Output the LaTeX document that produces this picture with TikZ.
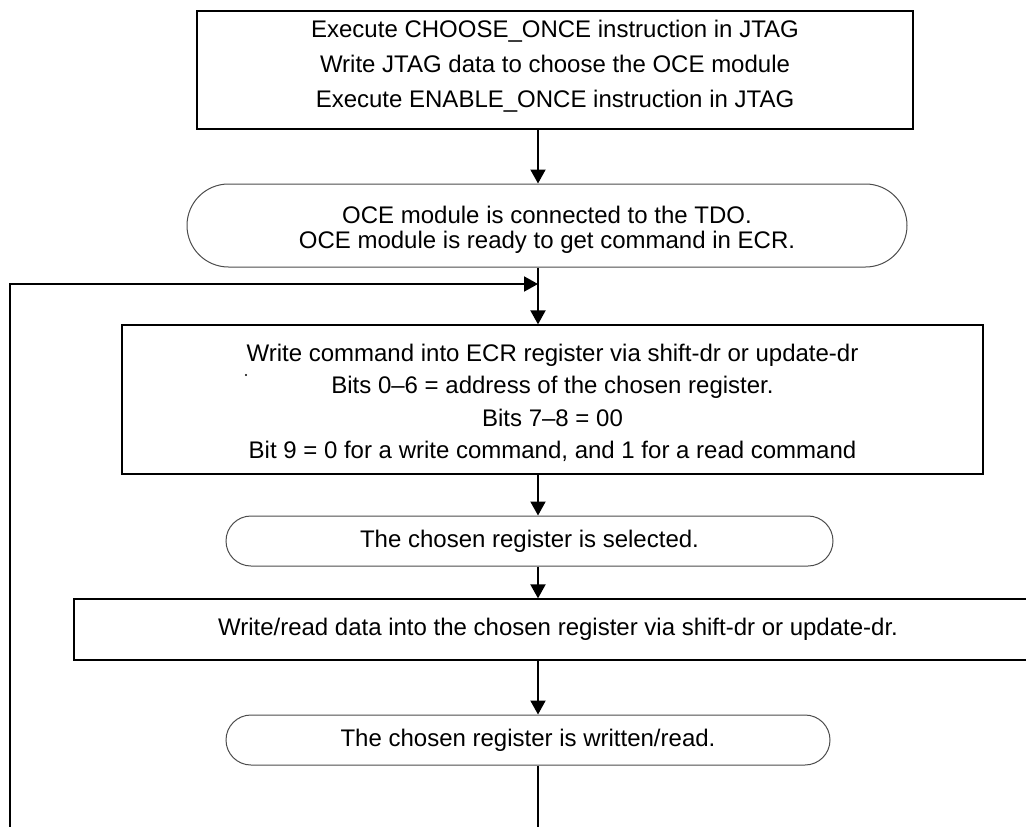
\documentclass[tikz,border=0pt]{standalone}
\usepackage{fontspec}
\setmainfont{Liberation Sans}
\usetikzlibrary{arrows.meta,shapes.misc}
\begin{document}
\begin{tikzpicture}[x=1pt,y=-1pt,
  txt/.style={font=\fontsize{24}{33}\selectfont, align=center, inner sep=0pt},
  sqbox/.style={draw, line width=1.3pt, rectangle, inner sep=0pt},
  rbox/.style={draw=black!70, line width=1pt, rounded rectangle, inner sep=0pt},
  arr/.style={line width=2pt, -{Triangle[width=15pt,length=14pt]}},
  conn/.style={line width=2pt}]
\useasboundingbox (0,0) rectangle (1026,827);
% boxes
\node[sqbox, minimum width=716pt, minimum height=118pt] (top) at (555,70) {};
\node[rbox, minimum width=720pt, minimum height=83pt] (ready) at (547,225.5) {};
\node[sqbox, minimum width=861pt, minimum height=149pt] (wcmd) at (552.5,399.5) {};
\node[rbox, minimum width=607pt, minimum height=50pt] (sel) at (529.5,541) {};
\node[sqbox, minimum width=968pt, minimum height=61pt] (wrdata) at (558,629.5) {};
\node[rbox, minimum width=604pt, minimum height=50pt] (done) at (528,740) {};
% texts
\node[txt, font=\fontsize{24}{35}\selectfont] (top-t) at (555,66)
  {Execute CHOOSE\_ONCE instruction in JTAG\\Write JTAG data to choose the OCE module\\Execute ENABLE\_ONCE instruction in JTAG};
\node[txt, font=\fontsize{24}{25}\selectfont] (ready-t) at (547,229.5)
  {OCE module is connected to the TDO.\\OCE module is ready to get command in ECR.};
\node[txt, font=\fontsize{24}{32.5}\selectfont] (wcmd-t) at (552.5,403)
  {Write command into ECR register via shift-dr or update-dr\\Bits 0--6 = address of the chosen register.\\Bits 7--8 = 00\\Bit 9 = 0 for a write command, and 1 for a read command};
\node[txt] (sel-t) at (529.5,541) {The chosen register is selected.};
\node[txt] (wrdata-t) at (558,629.5) {Write/read data into the chosen register via shift-dr or update-dr.};
\node[txt] (done-t) at (528,740) {The chosen register is written/read.};
\fill (246,375) circle (1.2pt);
% connectors
\coordinate (ax) at (538,0);
\coordinate (join) at (538,284);
\coordinate (bot) at (538,835);
\coordinate (loopbot) at (10,835);
\draw[arr] (top.south -| ax) -- (ready.north -| ax);
\draw[conn] (ready.south -| ax) -- (join);
\draw[arr] (join) -- (wcmd.north -| ax);
\draw[arr] (wcmd.south -| ax) -- (sel.north -| ax);
\draw[arr] (sel.south -| ax) -- (wrdata.north -| ax);
\draw[arr] (wrdata.south -| ax) -- (done.north -| ax);
\draw[conn] (done.south -| ax) -- (bot);
\draw[arr] (loopbot) |- (join);
\end{tikzpicture}
\end{document}
